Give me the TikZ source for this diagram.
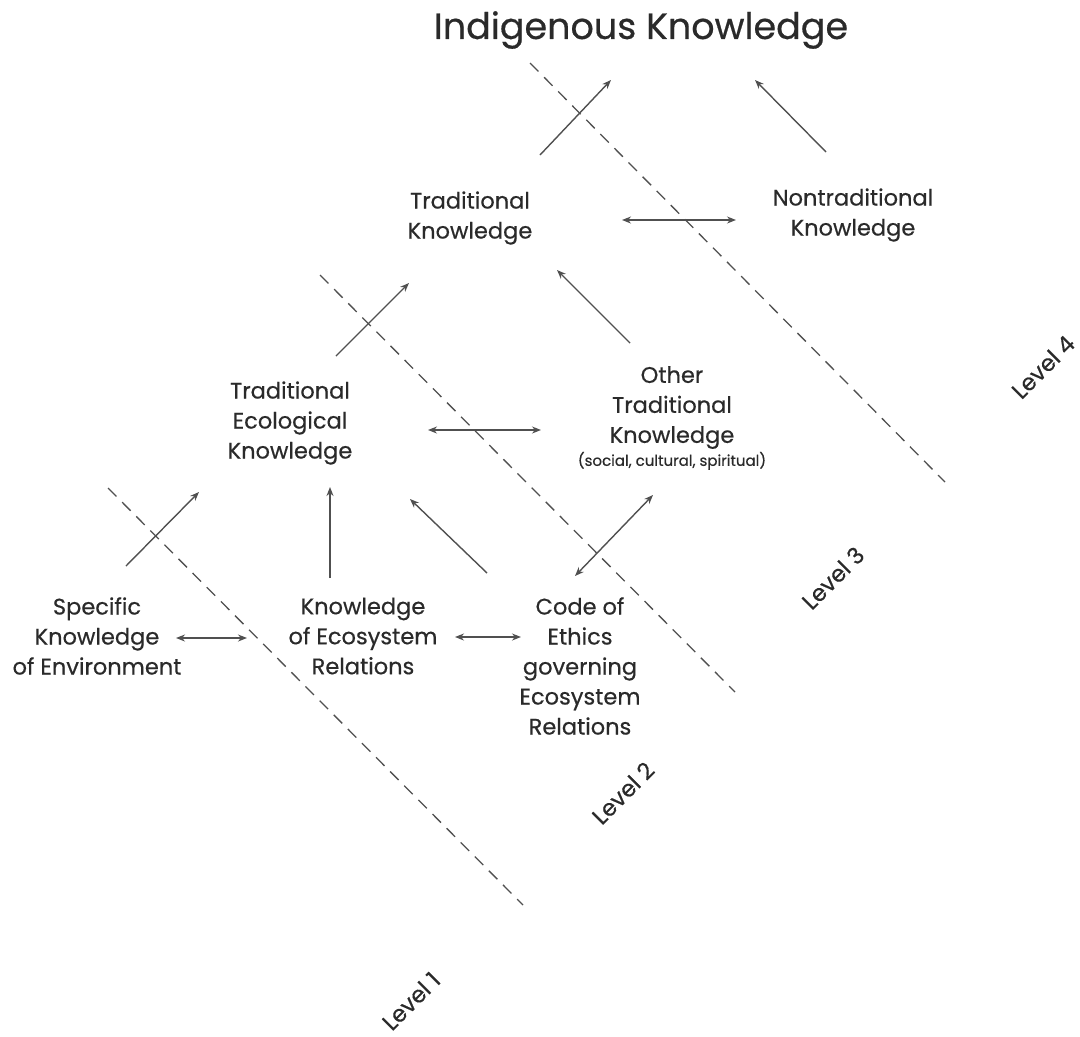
\documentclass[tikz,border=0pt]{standalone}
\usepackage{fontspec}
\setmainfont{Poppins}[FakeBold=0.5]
\usetikzlibrary{arrows.meta}
\definecolor{txt}{HTML}{2A2A2A}
\definecolor{ln}{HTML}{505050}
\tikzset{
  box/.style={align=center, text=txt, font=\fontsize{22.5}{30}\selectfont, inner sep=0pt},
  arr/.style={draw=ln, line width=1.4pt, -{Stealth[length=9pt,width=7pt]}},
  darr/.style={draw=ln, line width=1.4pt, {Stealth[length=9pt,width=7pt]}-{Stealth[length=9pt,width=7pt]}},
  divider/.style={draw=ln, line width=1.3pt, dash pattern=on 12pt off 8pt},
  lvl/.style={text=txt, rotate=45, font=\fontsize{23}{26}\selectfont, inner sep=0pt}
}
\begin{document}
\begin{tikzpicture}[x=1pt,y=-1pt]
\useasboundingbox (0,0) rectangle (1080,1037);
% titles and nodes
\node[box, font=\fontsize{36.5}{44}\selectfont] (ik) at (641,30) {Indigenous Knowledge};
\node[box] (tk) at (470,218) {Traditional\\Knowledge};
\node[box] (ntk) at (853,215) {Nontraditional\\Knowledge};
\node[box] (tek) at (290,423) {Traditional\\Ecological\\Knowledge};
\node[box, anchor=north] (otk) at (672,366) {Other\\Traditional\\Knowledge\\[-7pt]{\fontsize{15}{17}\selectfont(social, cultural, spiritual)}};
\node[box] (ske) at (97,636) {Specific\\Knowledge\\of Environment};
\node[box] (ker) at (363,636) {Knowledge\\of Ecosystem\\Relations};
\node[box] (coe) at (580,666) {Code of\\Ethics\\governing\\Ecosystem\\Relations};
% dividers
\coordinate (d1a) at (108,488); \coordinate (d1b) at (523,905);
\coordinate (d2a) at (320,275); \coordinate (d2b) at (735,692);
\coordinate (d3a) at (530,63);  \coordinate (d3b) at (945,482);
\draw[divider] (d1a) -- (d1b);
\draw[divider] (d2a) -- (d2b);
\draw[divider] (d3a) -- (d3b);
% level labels
\node[lvl] (l1) at (411,1001) {Level 1};
\node[lvl] (l2) at (623,793) {Level 2};
\node[lvl] (l3) at (833,578) {Level 3};
\node[lvl] (l4) at (1043,367) {Level 4};
% arrow end points
\coordinate (a1s) at (540,155); \coordinate (a1e) at (611,80);
\coordinate (a2s) at (826,152); \coordinate (a2e) at (755,80);
\coordinate (a3s) at (622,220); \coordinate (a3e) at (736,220);
\coordinate (a4s) at (336,356); \coordinate (a4e) at (409,283);
\coordinate (a5s) at (630,343); \coordinate (a5e) at (557,270);
\coordinate (a6s) at (428,430); \coordinate (a6e) at (541,430);
\coordinate (a7s) at (126,566); \coordinate (a7e) at (199,492);
\coordinate (a8s) at (330,578); \coordinate (a8e) at (330,487);
\coordinate (a9s) at (487,573); \coordinate (a9e) at (410,499);
\coordinate (a10s) at (575,576); \coordinate (a10e) at (653,495);
\coordinate (a11s) at (176,638); \coordinate (a11e) at (247,638);
\coordinate (a12s) at (455,637); \coordinate (a12e) at (521,637);
\draw[arr] (a1s) -- (a1e);
\draw[arr] (a2s) -- (a2e);
\draw[darr] (a3s) -- (a3e);
\draw[arr] (a4s) -- (a4e);
\draw[arr] (a5s) -- (a5e);
\draw[darr] (a6s) -- (a6e);
\draw[arr] (a7s) -- (a7e);
\draw[arr] (a8s) -- (a8e);
\draw[arr] (a9s) -- (a9e);
\draw[darr] (a10s) -- (a10e);
\draw[darr] (a11s) -- (a11e);
\draw[darr] (a12s) -- (a12e);
\end{tikzpicture}
\end{document}
